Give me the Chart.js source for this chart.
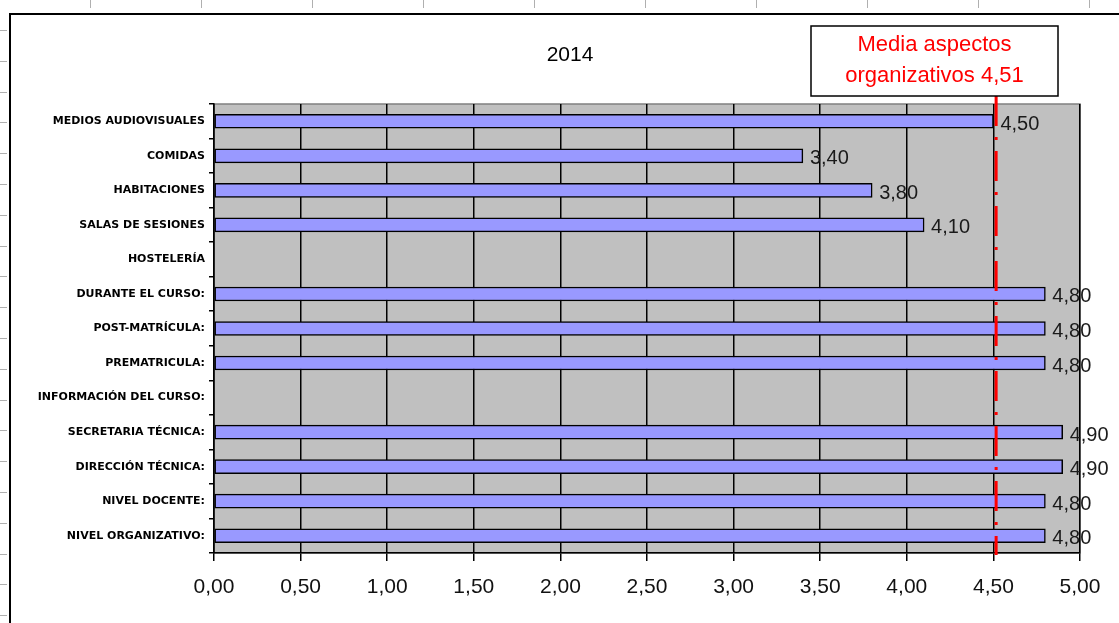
<!DOCTYPE html>
<html>
<head>
<meta charset="utf-8">
<script src="https://cdn.jsdelivr.net/npm/chart.js@4.4.1/dist/chart.umd.min.js"></script>
<style>
  html, body { margin: 0; padding: 0; background: #fff; }
  #wrap { width: 1119px; height: 623px; position: relative; }
</style>
</head>
<body>
<div id="wrap"><canvas id="chart"></canvas></div>
<script>
// categories top to bottom, as in the sheet
const categorias = [
  'MEDIOS AUDIOVISUALES', 'COMIDAS', 'HABITACIONES', 'SALAS DE SESIONES', 'HOSTELERÍA',
  'DURANTE EL CURSO:', 'POST-MATRÍCULA:', 'PREMATRICULA:', 'INFORMACIÓN DEL CURSO:',
  'SECRETARIA TÉCNICA:', 'DIRECCIÓN TÉCNICA:', 'NIVEL DOCENTE:', 'NIVEL ORGANIZATIVO:'
];
const valores = [4.50, 3.40, 3.80, 4.10, null, 4.80, 4.80, 4.80, null, 4.90, 4.90, 4.80, 4.80];
const media = 4.51;
const tituloGrafico = '2014';
const textoMedia = ['Media aspectos', 'organizativos 4,51'];

const fmt = v => v.toFixed(2).replace('.', ',');

// background, frame of the sheet, mean line, labels
const extras = {
  id: 'extras',
  beforeDraw(chart) {
    const {ctx, chartArea: a} = chart;
    ctx.save();
    // spreadsheet cell marks
    ctx.strokeStyle = '#b0b0b0';
    ctx.lineWidth = 1;
    for (let y = 30; y < 623; y += 30.8) {
      ctx.beginPath(); ctx.moveTo(0, Math.round(y) + 0.5); ctx.lineTo(7, Math.round(y) + 0.5); ctx.stroke();
    }
    for (let x = 90; x < 1119; x += 111) {
      ctx.beginPath(); ctx.moveTo(x + 0.5, 0); ctx.lineTo(x + 0.5, 8); ctx.stroke();
    }
    // chart frame
    ctx.strokeStyle = '#000';
    ctx.lineWidth = 2;
    ctx.beginPath(); ctx.moveTo(1119, 14); ctx.lineTo(10, 14); ctx.lineTo(10, 623); ctx.stroke();
    // plot background
    ctx.fillStyle = '#c0c0c0';
    ctx.fillRect(a.left, a.top, a.right - a.left, a.bottom - a.top);
    ctx.strokeStyle = '#808080';
    ctx.lineWidth = 1.5;
    ctx.strokeRect(a.left, a.top, a.right - a.left, a.bottom - a.top);
    // title
    ctx.fillStyle = '#000';
    ctx.font = '21px "Liberation Sans", Arial, sans-serif';
    ctx.textAlign = 'center';
    ctx.textBaseline = 'middle';
    ctx.fillText(tituloGrafico, 570, 55);
    ctx.restore();
  },
  afterDatasetsDraw(chart) {
    const {ctx, chartArea: a} = chart;
    const xs = chart.scales.x;
    const meta = chart.getDatasetMeta(0);
    ctx.save();
    // value labels
    ctx.fillStyle = '#1a1a1a';
    ctx.font = '20px "Liberation Sans", Arial, sans-serif';
    ctx.textAlign = 'left';
    ctx.textBaseline = 'middle';
    meta.data.forEach((bar, i) => {
      if (valores[i] == null) return;
      ctx.fillText(fmt(valores[i]), bar.x + 7, bar.y + 3);
    });
    // mean line
    const mx = xs.getPixelForValue(media) + 1;
    ctx.strokeStyle = '#ff0000';
    ctx.lineWidth = 3;
    ctx.setLineDash([30, 11, 3, 11]);
    ctx.beginPath(); ctx.moveTo(mx, 96); ctx.lineTo(mx, a.bottom + 2); ctx.stroke();
    ctx.setLineDash([]);
    // annotation box
    const bx = 811, by = 26, bw = 247, bh = 70;
    ctx.fillStyle = '#fff';
    ctx.fillRect(bx, by, bw, bh);
    ctx.strokeStyle = '#000';
    ctx.lineWidth = 1.5;
    ctx.strokeRect(bx, by, bw, bh);
    ctx.fillStyle = '#ff0000';
    ctx.font = '22px "Liberation Sans", Arial, sans-serif';
    ctx.textAlign = 'center';
    ctx.fillText(textoMedia[0], bx + bw / 2, 45);
    ctx.fillText(textoMedia[1], bx + bw / 2, 76);
    ctx.restore();
  }
};

new Chart(document.getElementById('chart'), {
  type: 'bar',
  data: {
    labels: categorias,
    datasets: [{
      data: valores,
      backgroundColor: '#9999ff',
      borderColor: '#000',
      borderWidth: 1.5,
      borderSkipped: false,
      barThickness: 14
    }]
  },
  options: {
    indexAxis: 'y',
    responsive: true,
    maintainAspectRatio: false,
    animation: false,
    layout: { padding: { top: 104, right: 39, bottom: 0, left: 0 } },
    plugins: { legend: { display: false }, tooltip: { enabled: false }, title: { display: false } },
    scales: {
      x: {
        min: 0, max: 5,
        ticks: {
          stepSize: 0.5,
          color: '#111',
          padding: 14,
          font: { family: '"Liberation Sans", Arial, sans-serif', size: 21 },
          callback: v => fmt(v)
        },
        grid: { color: '#000', lineWidth: 1.5, tickLength: 8, drawOnChartArea: true },
        border: { color: '#000', width: 1.5 },
        afterFit: s => { s.height = 70; }
      },
      y: {
        ticks: {
          color: '#000',
          padding: 4,
          font: { family: '"DejaVu Sans", sans-serif', size: 11, weight: 'bold' }
        },
        grid: { display: true, drawOnChartArea: false, color: '#000', lineWidth: 1.5, tickLength: 5, offset: true },
        border: { color: '#000', width: 1.5 },
        afterFit: s => { s.width = 214; }
      }
    }
  },
  plugins: [extras]
});
</script>
</body>
</html>
